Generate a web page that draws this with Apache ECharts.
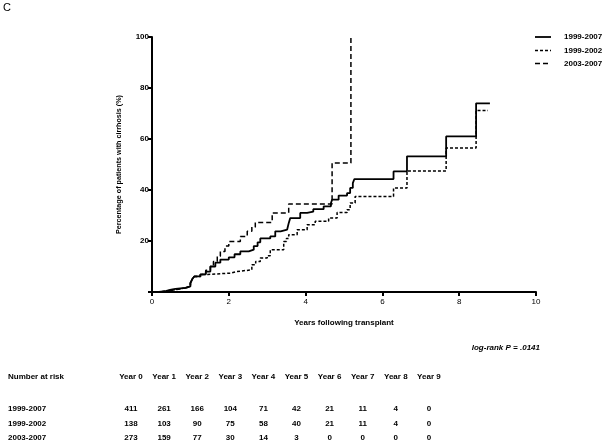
<!DOCTYPE html>
<html>
<head>
<meta charset="utf-8">
<script src="https://cdn.jsdelivr.net/npm/echarts@6/dist/echarts.min.js"></script>
<style>
html,body{margin:0;padding:0;background:#fff;}
#chart{width:602px;height:445px;}
</style>
</head>
<body>
<div id="chart"></div>
<script>
// ---- data ----
var seriesNames = ['1999-2007', '1999-2002', '2003-2007'];
var all9907 = [[0,0],[0.18,0.3],[0.35,0.9],[0.5,1.2],[0.61,1.6],[0.87,2.2],[1.0,3.5],[1.05,5.1],[1.1,6.1],[1.26,6.9],[1.4,8],[1.52,10],[1.65,11.5],[1.78,12.7],[2.0,13.6],[2.15,14.8],[2.3,15.9],[2.52,16.6],[2.65,18],[2.75,19.5],[2.82,21],[3.08,21.8],[3.21,23.8],[3.35,24.5],[3.52,25],[3.56,27],[3.6,29],[3.86,31],[4.04,31.5],[4.2,32.5],[4.47,33.6],[4.66,34.9],[4.69,36.2],[4.86,37.8],[5.08,38.8],[5.16,40.8],[5.23,42.7],[5.27,44.3],[6.29,47.3],[6.64,53.2],[7.66,61],[8.44,74],[8.8,74]];
var era9902 = [[0,0],[0.18,0.3],[0.35,0.9],[0.61,1.6],[0.87,2.2],[1.0,3.5],[1.05,5.1],[1.1,6.1],[1.26,6.9],[1.45,7.4],[2.05,8],[2.2,8.7],[2.6,10.7],[2.7,12],[2.82,13.3],[3.0,14.2],[3.08,16.6],[3.43,19.8],[3.5,21],[3.56,22.5],[3.78,24.4],[4.04,26.4],[4.25,27.7],[4.6,29],[4.82,31.2],[5.08,32.3],[5.16,34.9],[5.29,37.5],[6.29,40.8],[6.64,47.5],[7.66,56.5],[8.44,71.2],[8.75,71.2]];
var era0307 = [[0,0],[0.18,0.3],[0.35,0.9],[0.61,1.6],[0.87,2.2],[1.0,3.5],[1.05,5.1],[1.1,6.1],[1.26,6.9],[1.4,8.5],[1.52,10],[1.6,12],[1.7,14],[1.78,15.9],[1.9,18],[2.0,19.8],[2.3,21.8],[2.48,23.8],[2.6,25.5],[2.69,27.3],[3.13,31],[3.56,34.5],[4.69,50.6],[5.18,100]];
var riskHeaders = ['Year 0','Year 1','Year 2','Year 3','Year 4','Year 5','Year 6','Year 7','Year 8','Year 9'];
var risk9907 = [411,261,166,104,71,42,21,11,4,0];
var risk9902 = [138,103,90,75,58,40,21,11,4,0];
var risk0307 = [273,159,77,30,14,3,0,0,0,0];
var xTicks = [0,2,4,6,8,10];
var yTicks = [20,40,60,80,100];

// ---- chart ----
var FONT = '"Liberation Sans", Arial, sans-serif';
var chart = echarts.init(document.getElementById('chart'));
var txt = {fontFamily: FONT, fontSize: 8, fontWeight: 'bold', fill: '#000'};
var lineStyles = [
  {color: '#000', width: 1.8, type: 'solid'},
  {color: '#000', width: 1.5, type: [3,2]},
  {color: '#000', width: 1.5, type: [5,3]}
];

var graphics = [
  {type:'text', left: 3, top: 2, style:{text:'C', fontFamily: FONT, fontSize: 11, fill:'#000'}},
  {type:'text', right: 62, top: 344, style:{text:'log-rank P = .0141', fontFamily: FONT, fontSize: 8, fontWeight:'bold', fontStyle:'italic', fill:'#000'}},
  {type:'text', left: 8, top: 373, style: Object.assign({text:'Number at risk'}, txt)}
];
// legend (manual)
var legY = [37, 50.5, 63.5];
seriesNames.forEach(function(n, j){
  graphics.push({type:'line', shape:{x1:535, y1:legY[j], x2:551, y2:legY[j]},
    style:{stroke:'#000', lineWidth: lineStyles[j].width, lineDash: lineStyles[j].type === 'solid' ? null : lineStyles[j].type}});
  graphics.push({type:'text', x: 564, y: legY[j], style: Object.assign({text:n, verticalAlign:'middle'}, txt)});
});
var rows = [risk9907, risk9902, risk0307];
var rowY = [405, 420, 434];
riskHeaders.forEach(function(h, i){
  var cx = 131 + i*33.1;
  graphics.push({type:'text', x: cx, y: 373, style: Object.assign({text:h, textAlign:'center'}, txt)});
});
rows.forEach(function(r, j){
  graphics.push({type:'text', left: 8, top: rowY[j], style: Object.assign({text: seriesNames[j]}, txt)});
  r.forEach(function(v, i){
    var cx = 131 + i*33.1;
    graphics.push({type:'text', x: cx, y: rowY[j], style: Object.assign({text: String(v), textAlign:'center'}, txt)});
  });
});

var option = {
  animation: false,
  backgroundColor: '#fff',
  grid: {left: 152, right: 66, top: 37, bottom: 153, containLabel: false},
  xAxis: {
    type: 'value', min: 0, max: 10, interval: 2,
    name: 'Years following transplant', nameLocation: 'middle', nameGap: 27,
    nameTextStyle: {fontFamily: FONT, fontSize: 8, fontWeight: 'bold', color: '#000'},
    axisLine: {lineStyle: {color: '#000', width: 2}},
    axisTick: {show: true, length: 4, lineStyle: {color:'#000', width: 2}},
    axisLabel: {fontFamily: FONT, fontSize: 8, color: '#000', margin: 6},
    splitLine: {show: false}
  },
  yAxis: {
    type: 'value', min: 0, max: 100, interval: 20,
    name: 'Percentage of patients with cirrhosis (%)', nameLocation: 'middle', nameGap: 29,
    nameRotate: 90,
    nameTextStyle: {fontFamily: FONT, fontSize: 7.2, fontWeight: 'bold', color: '#000'},
    axisLine: {show: true, lineStyle: {color: '#000', width: 2}},
    axisTick: {show: true, length: 4, lineStyle: {color:'#000', width: 2}},
    axisLabel: {fontFamily: FONT, fontSize: 8, fontWeight: 'bold', color: '#000', margin: 3,
      formatter: function(v){ return yTicks.indexOf(v) >= 0 ? String(v) : ''; }},
    splitLine: {show: false}
  },
  series: [
    {name: seriesNames[0], type: 'line', step: 'end', data: all9907, showSymbol: false, symbol: 'none',
      lineStyle: lineStyles[0]},
    {name: seriesNames[1], type: 'line', step: 'end', data: era9902, showSymbol: false, symbol: 'none',
      lineStyle: lineStyles[1]},
    {name: seriesNames[2], type: 'line', step: 'end', data: era0307, showSymbol: false, symbol: 'none',
      lineStyle: lineStyles[2]}
  ],
  graphic: graphics
};
chart.setOption(option);
</script>
</body>
</html>
